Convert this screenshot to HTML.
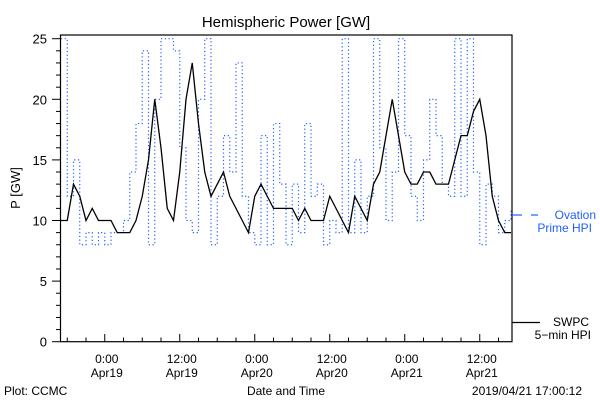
<!DOCTYPE html>
<html><head><meta charset="utf-8"><style>
body{margin:0;background:#fff}
svg text{font-family:"Liberation Sans",sans-serif}
</style></head><body>
<svg id="chart" width="600" height="400" xmlns="http://www.w3.org/2000/svg">
<rect width="600" height="400" fill="#fff"/>
<text x="286" y="27" font-size="15" text-anchor="middle">Hemispheric Power [GW]</text>
<g id="plot"></g>
<rect x="60.5" y="35" width="451.5" height="306.7" fill="none" stroke="#000" stroke-width="1.2"/>
<text x="20" y="188" font-size="13" text-anchor="middle" transform="rotate(-90 20 188)">P [GW]</text>
<text x="286" y="395" font-size="12" text-anchor="middle">Date and Time</text>
<text x="4" y="395" font-size="12">Plot: CCMC</text>
<text x="582" y="395" font-size="12" text-anchor="end">2019/04/21 17:00:12</text>
<g>
<line x1="512" y1="215" x2="522" y2="215" stroke="#1f5fff" stroke-width="1.2"/>
<line x1="531" y1="215" x2="538" y2="215" stroke="#1f5fff" stroke-width="1.2"/>
<text x="596" y="219" font-size="12" fill="#1f5fff" text-anchor="end">Ovation</text>
<text x="592" y="232" font-size="12" fill="#1f5fff" text-anchor="end">Prime HPI</text>
</g>
<g>
<line x1="512" y1="322.5" x2="540" y2="322.5" stroke="#000" stroke-width="1.2"/>
<text x="589" y="326" font-size="12" text-anchor="end">SWPC</text>
<text x="591" y="339" font-size="12" text-anchor="end">5−min HPI</text>
</g>
</svg>
<script>
const yTicks=[0,5,10,15,20,25];
const xTickHours=[7,19,31,43,55,67];
const xTickTimes=["0:00","12:00","0:00","12:00","0:00","12:00"];
const xTickDates=["Apr19","Apr19","Apr20","Apr20","Apr21","Apr21"];
const swpcValues=[10,10,13,12,10,11,10,10,10,9,9,9,10,12,15,20,16,11,10,14,20,23,18,14,12,13,14,12,11,10,9,12,13,12,11,11,11,11,10,11,10,10,10,12,11,10,9,12,11,10,13,14,17,20,17,14,13,13,14,14,13,13,13,15,17,17,19,20,17,12,10,9,9];
const ovationValues=[25,12,15,8,9,8,9,8,9,9,10,14,18,24,8,20,25,25,24,16,10,9,20,25,8,12,17,14,23,12,9,8,17,8,18,13,8,13,9,18,12,13,8,10,9,25,9,15,9,12,25,16,10,14,25,17,12,10,15,20,17,13,12,25,12,25,14,8,13,12,9,10,11];
const x0=61,pxPerHour=6.25;
const X=h=>x0+h*pxPerHour;
const Y=v=>341.7-v*12.12;
const ns="http://www.w3.org/2000/svg";
const plot=document.getElementById('plot');
function mk(tag,attrs){const e=document.createElementNS(ns,tag);for(const k in attrs)e.setAttribute(k,attrs[k]);plot.appendChild(e);return e;}
for(let v=0;v<=25;v++){
 const big=v%5===0;
 const t=mk('line',{x1:60.5,x2:big?52:56,y1:Y(v),y2:Y(v),stroke:'#000','stroke-width':1});
 
 
}
yTicks.forEach(v=>{
 const t=mk('text',{x:47,y:Y(v)+5,'font-size':13,'text-anchor':'end'});
 t.textContent=v;
 
 
});
for(let h=1;h<72;h+=3){
 const big=xTickHours.includes(h);
 const t=mk('line',{x1:X(h),x2:X(h),y1:341.7,y2:big?334:337.5,stroke:'#000','stroke-width':1});
 
 
}
xTickHours.forEach((h,i)=>{
 const a=mk('text',{x:X(h)+2,y:363,'font-size':12,'text-anchor':'middle'});
 a.textContent=xTickTimes[i];
 
 
 const b=mk('text',{x:X(h)+2,y:377,'font-size':12,'text-anchor':'middle'});
 b.textContent=xTickDates[i];
 
 
});
function stepPath(vals){
 let d='M'+X(0)+' '+Y(vals[0]);
 for(let i=1;i<vals.length;i++){d+=' L'+X(i)+' '+Y(vals[i-1])+' L'+X(i)+' '+Y(vals[i]);}
 return d;
}
function linePath(vals){
 let d='M'+X(0)+' '+Y(vals[0]);
 for(let i=1;i<vals.length;i++){d+=' L'+X(i)+' '+Y(vals[i]);}
 return d;
}
const ov=mk('path',{d:stepPath(ovationValues),fill:'none',stroke:'#1f5fff','stroke-width':1.2,'stroke-dasharray':'1.2 2.5'});


const sw=mk('path',{d:linePath(swpcValues),fill:'none',stroke:'#000','stroke-width':1.3});


</script>
</body></html>
